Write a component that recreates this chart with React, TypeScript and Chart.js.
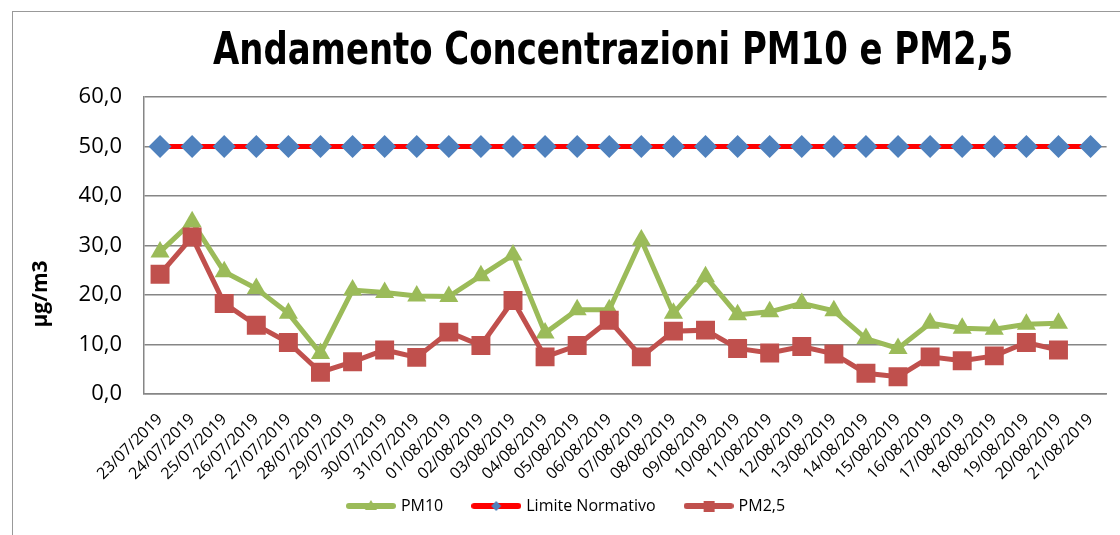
import React, { useEffect, useRef } from "react";
import { Chart, registerables } from "chart.js";

Chart.register(...registerables);

const categories = [
  "23/07/2019", "24/07/2019", "25/07/2019", "26/07/2019", "27/07/2019", "28/07/2019",
  "29/07/2019", "30/07/2019", "31/07/2019", "01/08/2019", "02/08/2019", "03/08/2019",
  "04/08/2019", "05/08/2019", "06/08/2019", "07/08/2019", "08/08/2019", "09/08/2019",
  "10/08/2019", "11/08/2019", "12/08/2019", "13/08/2019", "14/08/2019", "15/08/2019",
  "16/08/2019", "17/08/2019", "18/08/2019", "19/08/2019", "20/08/2019", "21/08/2019",
];

const pm10 = [
  28.7, 34.8, 24.7, 21.3, 16.3, 8.2, 21.0, 20.5, 19.8, 19.7,
  23.9, 28.1, 12.3, 17.0, 17.0, 31.1, 16.3, 23.7, 16.0, 16.6,
  18.3, 16.8, 11.2, 9.2, 14.3, 13.3, 13.1, 14.1, 14.3, null,
];

const limiteNormativo = [
  50, 50, 50, 50, 50, 50, 50, 50, 50, 50,
  50, 50, 50, 50, 50, 50, 50, 50, 50, 50,
  50, 50, 50, 50, 50, 50, 50, 50, 50, 50,
];

const pm25 = [
  24.2, 31.7, 18.3, 13.9, 10.4, 4.4, 6.5, 8.9, 7.4, 12.5,
  9.8, 18.9, 7.5, 9.8, 14.9, 7.5, 12.7, 12.9, 9.2, 8.3,
  9.6, 8.1, 4.2, 3.5, 7.5, 6.7, 7.7, 10.4, 8.9, null,
];

const titleText = "Andamento Concentrazioni PM10 e PM2,5";
const yAxisTitle = "µg/m3";
const seriesNames = ["PM10", "Limite Normativo", "PM2,5"];

const GREEN = "#9BBB59";
const RED_LINE = "#FF0000";
const BLUE = "#4F81BD";
const DARK_RED = "#C0504D";
const GRID = "#868686";
const FONT = "'Open Sans', sans-serif";
const TITLE_FONT = "bold 45px 'DejaVu Sans Condensed', 'DejaVu Sans', sans-serif";

function makeIcon(lineColor: string, markerColor: string, shape: string): HTMLCanvasElement {
  const c = document.createElement("canvas");
  c.width = 50;
  c.height = 16;
  const ctx = c.getContext("2d")!;
  ctx.strokeStyle = lineColor;
  ctx.lineWidth = 6;
  ctx.lineCap = "round";
  ctx.beginPath();
  ctx.moveTo(3, 8);
  ctx.lineTo(47, 8);
  ctx.stroke();
  ctx.fillStyle = markerColor;
  ctx.beginPath();
  if (shape === "triangle") {
    ctx.moveTo(25, 2);
    ctx.lineTo(31, 12);
    ctx.lineTo(19, 12);
    ctx.closePath();
  } else if (shape === "diamond") {
    ctx.moveTo(25, 3);
    ctx.lineTo(30, 8);
    ctx.lineTo(25, 13);
    ctx.lineTo(20, 8);
    ctx.closePath();
  } else {
    ctx.rect(20, 3, 11, 11);
  }
  ctx.fill();
  return c;
}

const textPlugin = {
  id: "textPlugin",
  afterDraw(chart: any) {
    const ctx = chart.ctx;
    // chart title
    ctx.save();
    ctx.font = TITLE_FONT;
    ctx.fillStyle = "#000";
    ctx.textAlign = "center";
    ctx.textBaseline = "middle";
    const w = ctx.measureText(titleText).width;
    const sx = 800 / w;
    ctx.translate(613, 52);
    ctx.scale(sx, 1);
    ctx.fillText(titleText, 0, 0);
    ctx.restore();
    // y axis title
    ctx.save();
    ctx.translate(41, 294);
    ctx.rotate(-Math.PI / 2);
    ctx.font = `bold 21px ${FONT}`;
    ctx.fillStyle = "#000";
    ctx.textAlign = "center";
    ctx.textBaseline = "middle";
    ctx.fillText(yAxisTitle, 0, 0);
    ctx.restore();
  },
};

export default function App() {
  const ref = useRef<HTMLCanvasElement | null>(null);

  useEffect(() => {
    if (!ref.current) return;
    const icons = [
      makeIcon(GREEN, GREEN, "triangle"),
      makeIcon(RED_LINE, BLUE, "diamond"),
      makeIcon(DARK_RED, DARK_RED, "square"),
    ];
    const chart = new Chart(ref.current, {
      type: "line",
      data: {
        labels: categories,
        datasets: [
          {
            label: seriesNames[0],
            data: pm10,
            borderColor: GREEN,
            backgroundColor: GREEN,
            borderWidth: 5,
            pointStyle: "triangle",
            pointRadius: 11,
            pointBorderWidth: 0,
            pointBackgroundColor: GREEN,
            order: 3,
          },
          {
            label: seriesNames[1],
            data: limiteNormativo,
            borderColor: RED_LINE,
            backgroundColor: BLUE,
            borderWidth: 5,
            pointStyle: "rectRot",
            pointRadius: 11.5,
            pointBorderWidth: 0,
            pointBackgroundColor: BLUE,
            order: 2,
          },
          {
            label: seriesNames[2],
            data: pm25,
            borderColor: DARK_RED,
            backgroundColor: DARK_RED,
            borderWidth: 5,
            pointStyle: "rect",
            pointRadius: 13.4,
            pointBorderWidth: 0,
            pointBackgroundColor: DARK_RED,
            order: 1,
          },
        ],
      },
      options: {
        responsive: false,
        animation: false,
        devicePixelRatio: 1,
        layout: { padding: { left: 20, right: 6, top: 97, bottom: 11 } },
        plugins: {
          tooltip: { enabled: false },
          title: { display: false },
          legend: {
            position: "bottom",
            labels: {
              usePointStyle: true,
              pointStyleWidth: 44,
              padding: 31,
              color: "#000",
              font: { family: FONT, size: 16 },
              sort: (a: any, b: any) => a.datasetIndex - b.datasetIndex,
              generateLabels: (ch: any) => {
                const items = (Chart.defaults.plugins.legend.labels as any).generateLabels(ch);
                return items.map((it: any) => ({ ...it, pointStyle: icons[it.datasetIndex] }));
              },
            },
          },
        },
        scales: {
          x: {
            offset: true,
            grid: { display: false },
            border: { display: true, color: GRID, width: 1.5 },
            ticks: {
              autoSkip: false,
              minRotation: 45,
              maxRotation: 45,
              padding: 8,
              color: "#000",
              font: { family: FONT, size: 16 },
            },
            afterFit: (scale: any) => {
              scale.height = 73;
              scale._computeLabelArea = () => undefined;
            },
          },
          y: {
            min: 0,
            max: 60,
            grid: { color: GRID, lineWidth: 1.5, drawTicks: false },
            border: { display: true, color: GRID, width: 1.5 },
            ticks: {
              stepSize: 10,
              padding: 22,
              color: "#000",
              font: { family: FONT, size: 22 },
              callback: (v: any) => Number(v).toFixed(1).replace(".", ","),
            },
            afterFit: (scale: any) => {
              scale.width = 124;
            },
          },
        },
      },
      plugins: [textPlugin],
    } as any);
    return () => chart.destroy();
  }, []);

  return (
    <div
      style={{
        position: "fixed",
        left: 0,
        top: 0,
        width: 1120,
        height: 535,
        overflow: "hidden",
        background: "#fff",
      }}
    >
      <div
        style={{
          position: "absolute",
          left: 12,
          top: 11,
          width: 1200,
          height: 600,
          border: "1.5px solid #999",
        }}
      />
      <canvas ref={ref} width={1120} height={535} style={{ position: "absolute", left: 0, top: 0 }} />
    </div>
  );
}
